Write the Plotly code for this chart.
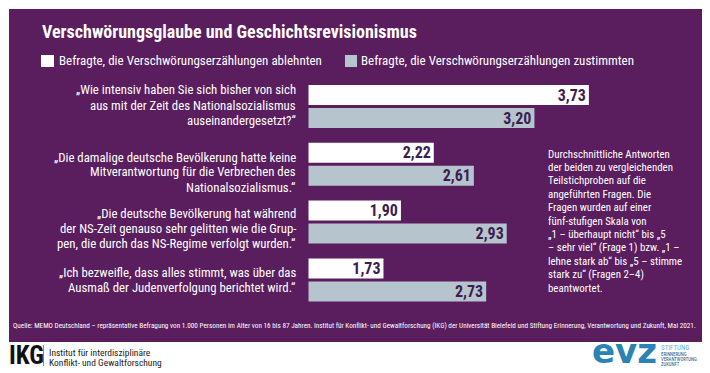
import plotly.graph_objects as go

# ---------------- data ----------------
title_text = "Verschwörungsglaube und Geschichtsrevisionismus"
series_names = [
    "Befragte, die Verschwörungserzählungen ablehnten",
    "Befragte, die Verschwörungserzählungen zustimmten",
]
categories = ["F1", "F2", "F3", "F4"]
question_lines = [
    ["„Wie intensiv haben Sie sich bisher von sich", "aus mit der Zeit des Nationalsozialismus",
     "auseinandergesetzt?“"],
    ["„Die damalige deutsche Bevölkerung hatte keine", "Mitverantwortung für die Verbrechen des",
     "Nationalsozialismus.“"],
    ["„Die deutsche Bevölkerung hat während", "der NS-Zeit genauso sehr gelitten wie die Grup-",
     "pen, die durch das NS-Regime verfolgt wurden.“"],
    ["„Ich bezweifle, dass alles stimmt, was über das", "Ausmaß der Judenverfolgung berichtet wird.“"],
]
values_reject = [3.73, 2.22, 1.90, 1.73]
values_agree = [3.20, 2.61, 2.93, 2.73]
note_lines = [
    "Durchschnittliche Antworten", "der beiden zu vergleichenden", "Teilstichproben auf die",
    "angeführten Fragen. Die", "Fragen wurden auf einer", "fünf-stufigen Skala von",
    "„1 – überhaupt nicht“ bis „5", "– sehr viel“ (Frage 1) bzw. „1 –", "lehne stark ab“ bis „5 – stimme",
    "stark zu“ (Fragen 2–4)", "beantwortet.",
]
source_text = (
    "Quelle: MEMO Deutschland – repräsentative Befragung von 1.000 Personen im Alter von 16 bis 87 Jahren. "
    "Institut für Konflikt- und Gewaltforschung (IKG) der Universität Bielefeld und Stiftung Erinnerung, "
    "Verantwortung und Zukunft, Mai 2021."
)

# ---------------- style ----------------
# the page body has an 8px margin, so the figure covers reference pixels 8..710 / 8..373
OFF = 8
W, H = 710 - OFF, 373 - OFF
PURPLE = "#5a1d5e"
GREY = "#b6c5cd"
DARK = "#3d1d4f"
FONT = "Liberation Sans Narrow, Arial Narrow, Roboto Condensed, DejaVu Sans Condensed, sans-serif"


def px(x):
    return (x - OFF) / W


def py(y):
    return 1 - (y - OFF) / H


fig = go.Figure()
common = dict(
    y=categories,
    orientation="h",
    width=0.346,
    texttemplate="%{x:.2f}",
    textposition="inside",
    insidetextanchor="end",
    constraintext="none",
    textfont=dict(family=FONT, size=16, color=DARK, weight="bold"),
    showlegend=False,
    hoverinfo="skip",
)
fig.add_trace(go.Bar(x=values_reject, name=series_names[0], marker=dict(color="#ffffff", line_width=0),
                     offset=-0.372, **common))
fig.add_trace(go.Bar(x=values_agree, name=series_names[1], marker=dict(color=GREY, line_width=0),
                     offset=0.026, **common))

x0, x1, unit = 308.5, 702, 102.7
fig.update_xaxes(domain=[px(x0), px(x1)], range=[1, 1 + (x1 - x0) / unit], visible=False, fixedrange=True)
fig.update_yaxes(domain=[py(308.8), py(77.6)], type="category", categoryorder="array",
                 categoryarray=categories, range=[3.5, -0.5], visible=False)

shapes = [
    dict(type="rect", xref="paper", yref="paper", x0=px(9), x1=px(702), y0=py(342), y1=py(9),
         fillcolor=PURPLE, line_width=0, layer="below"),
    # legend swatches
    dict(type="rect", xref="paper", yref="paper", x0=px(41), x1=px(54), y0=py(67), y1=py(55),
         fillcolor="#ffffff", line_width=0),
    dict(type="rect", xref="paper", yref="paper", x0=px(345), x1=px(357), y0=py(67), y1=py(55),
         fillcolor=GREY, line_width=0),
    # IKG divider
    dict(type="line", xref="paper", yref="paper", x0=px(43.5), x1=px(43.5), y0=py(366), y1=py(345),
         line=dict(color="#888888", width=1)),
]

ann = []


def txt(text, x, y, size, color="white", xanchor="left", family=FONT, bold=False, yanchor="middle"):
    ann.append(dict(text=f"<b>{text}</b>" if bold else text, x=px(x), y=py(y), xanchor=xanchor,
                    yanchor=yanchor, font=dict(family=family, size=size, color=color)))


txt(title_text, 40, 32, 18, bold=True)
txt(series_names[0], 57, 61, 13)
txt(series_names[1], 359, 61, 13)

# question labels, one line each (first-line y positions and line step)
q_first = [90, 157, 213, 272]
q_step = 15
for lines, y0 in zip(question_lines, q_first):
    for i, line in enumerate(lines):
        txt(line, 298, y0 + i * q_step, 12.8, xanchor="right")

# side note
for i, line in enumerate(note_lines):
    txt(line, 546, 154 + i * 13.4, 10.9)

txt(source_text, 11, 325, 7.2)

# logos as text
txt("IKG", 7, 355, 25, color="#111111", bold=True)
txt("Institut für interdisziplinäre", 47, 352, 9.5, color="#222222")
txt("Konflikt- und Gewaltforschung", 47, 362, 9.5, color="#222222")
txt("evz", 590, 372.5, 34, color="#2a83b3", family="DejaVu Sans, Liberation Sans, sans-serif", bold=True,
    yanchor="bottom")
txt("STIFTUNG", 659, 348, 7, color="#5fb3dc")
for i, line in enumerate(["ERINNERUNG", "VERANTWORTUNG", "ZUKUNFT"]):
    txt(line, 659, 354 + i * 5, 4.8, color="#1d4f7a")

for a in ann:
    a["xref"] = "paper"
    a["yref"] = "paper"
    a["showarrow"] = False

fig.update_layout(
    width=W, height=H, margin=dict(l=0, r=0, t=0, b=0),
    paper_bgcolor="white", plot_bgcolor="rgba(0,0,0,0)",
    barmode="overlay", separators=",.",
    shapes=shapes, annotations=ann,
    font=dict(family=FONT),
)
fig.write_html("out.html", config={"displayModeBar": False})
